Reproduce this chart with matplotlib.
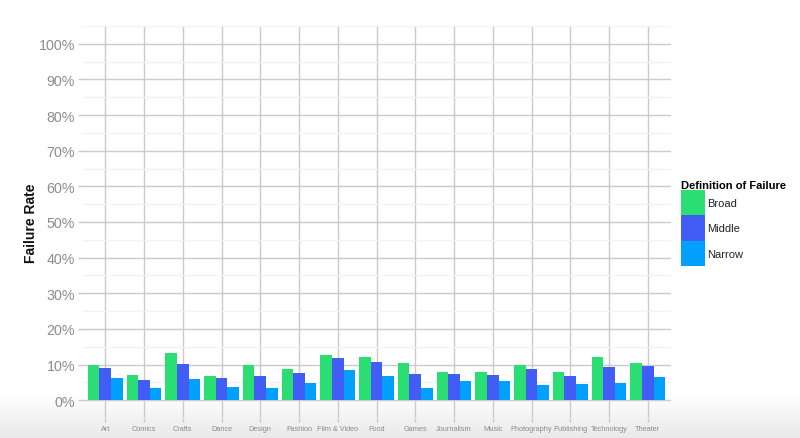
import numpy as np
import matplotlib
matplotlib.use("Agg")
import matplotlib.pyplot as plt
from matplotlib.ticker import MultipleLocator, FuncFormatter

# data (failure rate, %)
categories = ["Art", "Comics", "Crafts", "Dance", "Design", "Fashion", "Film & Video",
              "Food", "Games", "Journalism", "Music", "Photography", "Publishing",
              "Technology", "Theater"]
broad = [9.8, 7.0, 13.2, 6.7, 9.8, 8.8, 12.6, 12.1, 10.4, 7.9, 7.8, 9.8, 7.8, 12.2, 10.4]
middle = [8.9, 5.7, 10.1, 6.2, 6.7, 7.6, 11.7, 10.6, 7.3, 7.4, 7.2, 8.7, 6.7, 9.4, 9.6]
narrow = [6.1, 3.3, 5.9, 3.8, 3.5, 4.8, 8.4, 6.7, 3.4, 5.3, 5.3, 4.4, 4.5, 4.7, 6.6]

series = [("Broad", broad, "#2ADE74"),
          ("Middle", middle, "#415DF5"),
          ("Narrow", narrow, "#00A0FF")]

plt.rcParams['font.family'] = ['Liberation Sans', 'DejaVu Sans']

fig = plt.figure(figsize=(8, 4.39), dpi=100)

# faint grey fade at the bottom of the screenshot
bg = fig.add_axes([0, 0, 1, 1], zorder=-10)
grad = np.ones((439, 1))
yy = np.arange(439)
grad[:, 0] = np.clip((yy - 392) / 47.0, 0, 1)
bg.imshow(1 - 0.09 * grad, cmap="gray", vmin=0, vmax=1, aspect="auto",
          extent=[0, 1, 0, 1], origin="upper")
bg.axis("off")

ax = fig.add_axes([82 / 800, 1 - 419 / 439, 589 / 800, 392 / 439])
ax.set_facecolor("none")

x = np.arange(len(categories))
w = 0.3
for i, (name, vals, col) in enumerate(series):
    ax.bar(x + (i - 1) * w, np.array(vals) / 100, width=w, color=col,
           label=name, linewidth=0, zorder=3)

ax.set_xlim(-0.6, len(categories) - 0.4)
ax.set_ylim(-0.05, 1.05)
ax.yaxis.set_major_locator(MultipleLocator(0.1))
ax.yaxis.set_minor_locator(MultipleLocator(0.05))
ax.yaxis.set_major_formatter(FuncFormatter(lambda v, p: f"{v * 100:.0f}%"))
ax.set_xticks(x)
ax.set_xticklabels(categories)

ax.grid(True, which="major", color="#CBCBCB", linewidth=1.0, zorder=0)
ax.grid(True, which="minor", axis="y", color="#F2F2F2", linewidth=1.0, zorder=0)
ax.set_axisbelow(True)
for s in ax.spines.values():
    s.set_visible(False)

ax.tick_params(axis="y", which="major", colors="#CBCBCB", length=3, width=1.0,
               labelcolor="#8C8C8C", labelsize=10.3, pad=2)
ax.tick_params(axis="y", which="minor", length=0)
ax.tick_params(axis="x", colors="#CBCBCB", length=3, width=1.0,
               labelcolor="#8C8C8C", labelsize=5.3, pad=2)

ax.set_ylabel("Failure Rate", fontsize=10, fontweight="bold", color="#111111",
              labelpad=0.8)

leg = ax.legend(title="Definition of Failure", loc="upper left",
                bbox_to_anchor=(681 / 800, 1 - 181 / 439),
                bbox_transform=fig.transFigure, frameon=False, fontsize=8,
                title_fontproperties={"weight": "bold", "size": 8},
                handlelength=2.19, handleheight=3.13, handletextpad=0.2,
                labelspacing=0, borderpad=0, borderaxespad=0, alignment="left")
for t in leg.get_texts():
    t.set_color("#222222")

fig.savefig("out.png", dpi=100)
